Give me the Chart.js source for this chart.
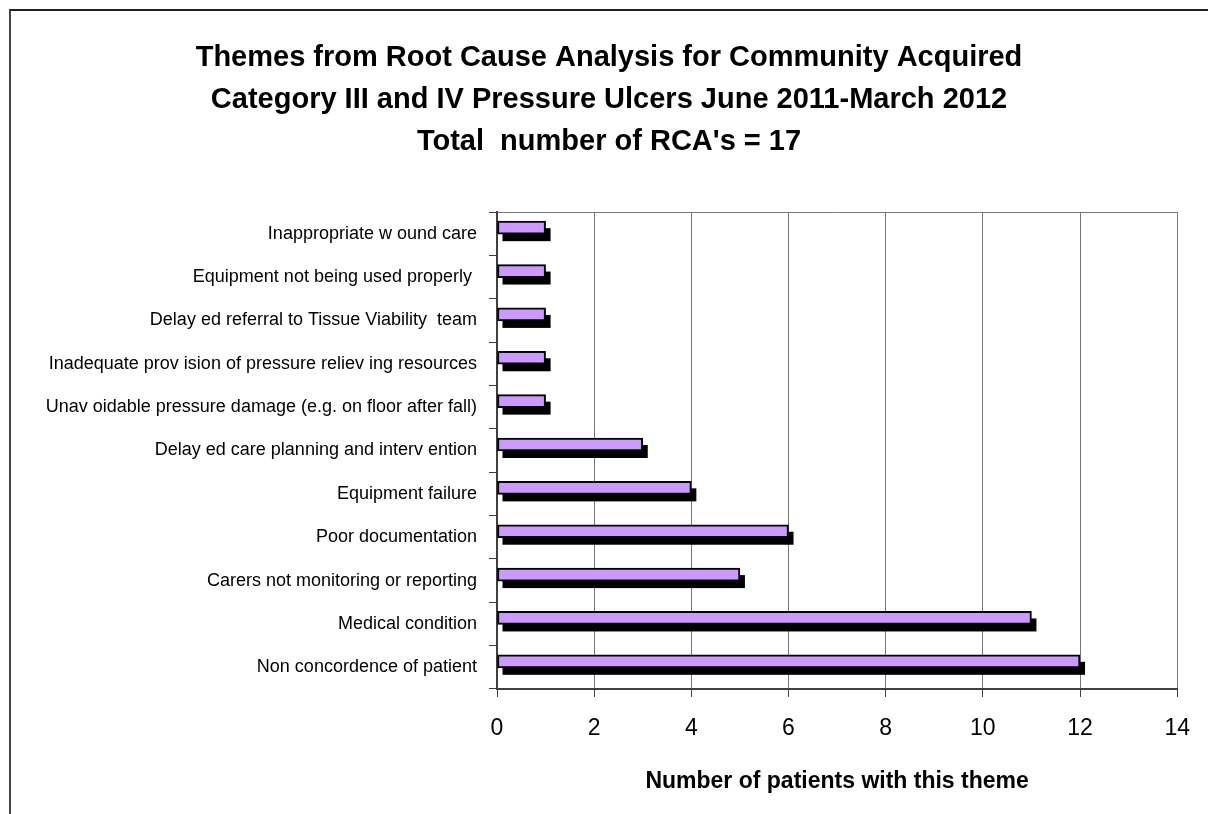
<!DOCTYPE html>
<html>
<head>
<meta charset="utf-8">
<script src="https://cdn.jsdelivr.net/npm/chart.js@4.4.1/dist/chart.umd.min.js"></script>
<style>
    html, body { margin: 0; padding: 0; background: #fff; }
    #wrap { position: relative; width: 1208px; height: 814px; overflow: hidden; }
    #frame { position: absolute; left: 9px; top: 9px; width: 1400px; height: 1000px; border-top: 2px solid #222; border-left: 2px solid #444; }
    #chart { position: absolute; left: 0; top: 0; }
</style>
</head>
<body>
<div id="wrap">
    <div id="frame"></div>
    <canvas id="chart" width="1208" height="814"></canvas>
</div>
<script>
const titleLines = [
    'Themes from Root Cause Analysis for Community Acquired',
    'Category III and IV Pressure Ulcers June 2011-March 2012',
    'Total  number of RCA\'s = 17'
];
const axisTitle = 'Number of patients with this theme';

const categories = [
    'Inappropriate w ound care',
    'Equipment not being used properly ',
    'Delay ed referral to Tissue Viability  team',
    'Inadequate prov ision of pressure reliev ing resources',
    'Unav oidable pressure damage (e.g. on floor after fall)',
    'Delay ed care planning and interv ention',
    'Equipment failure',
    'Poor documentation',
    'Carers not monitoring or reporting',
    'Medical condition',
    'Non concordence of patient'
];
const patients = [1, 1, 1, 1, 1, 3, 4, 6, 5, 11, 12];

const xMin = 0;
const xMax = 14;
const xStep = 2;

const theme = {
    bar: '#cc99ff',
    shadow: '#000000',
    grid: '#777777',
    axis: '#404040',
    text: '#000000'
};

const font = "'Liberation Sans', Arial, sans-serif";

// Excel style drop shadow: solid black copy of each bar, offset down/right.
// Bars sit a little above the band centre like the original.
const barShadow = {
    id: 'barShadow',
    beforeDatasetsDraw(chart) {
        const ctx = chart.ctx;
        ctx.save();
        ctx.translate(0, -6);
        ctx.fillStyle = theme.shadow;
        chart.getDatasetMeta(0).data.forEach((bar) => {
            const { x, y, base, height } = bar.getProps(['x', 'y', 'base', 'height'], true);
            const left = Math.min(x, base);
            ctx.fillRect(left + 5, y - height / 2 + 7, Math.abs(x - base), height);
        });
    },
    afterDatasetsDraw(chart) {
        chart.ctx.restore();
    }
};

new Chart(document.getElementById('chart'), {
    type: 'bar',
    data: {
        labels: categories,
        datasets: [{
            label: 'Patients',
            data: patients,
            backgroundColor: theme.bar,
            borderColor: '#000000',
            borderWidth: 2,
            borderSkipped: false,
            barThickness: 13
        }]
    },
    plugins: [barShadow],
    options: {
        indexAxis: 'y',
        responsive: false,
        animation: false,
        layout: { padding: { left: 40, right: 30, top: 0, bottom: 0 } },
        plugins: {
            legend: { display: false },
            tooltip: { enabled: false },
            title: {
                display: true,
                text: titleLines,
                color: theme.text,
                font: { family: font, size: 29, weight: 'bold', lineHeight: 42 / 29 },
                padding: { top: 37, bottom: 49 }
            }
        },
        scales: {
            x: {
                min: xMin,
                max: xMax,
                afterFit(scale) { scale.height = 125; },
                ticks: {
                    stepSize: xStep,
                    color: theme.text,
                    padding: 18,
                    font: { family: font, size: 23 }
                },
                grid: {
                    color: theme.grid,
                    lineWidth: 1,
                    tickLength: 8,
                    tickColor: theme.axis
                },
                border: { color: theme.axis, width: 2 },
                title: {
                    display: true,
                    text: axisTitle,
                    color: theme.text,
                    font: { family: font, size: 23, weight: 'bold' },
                    padding: { top: 0, bottom: 19 }
                }
            },
            y: {
                afterFit(scale) { scale.width = 457; },
                ticks: {
                    color: theme.text,
                    padding: 12,
                    font: { family: font, size: 18 }
                },
                grid: {
                    offset: true,
                    drawOnChartArea: true,
                    color: (ctx) => ctx.index === 0 ? theme.grid : 'rgba(0,0,0,0)',
                    tickColor: theme.axis,
                    tickLength: 8,
                    lineWidth: 1
                },
                border: { color: theme.axis, width: 2 }
            }
        }
    }
});
</script>
</body>
</html>
